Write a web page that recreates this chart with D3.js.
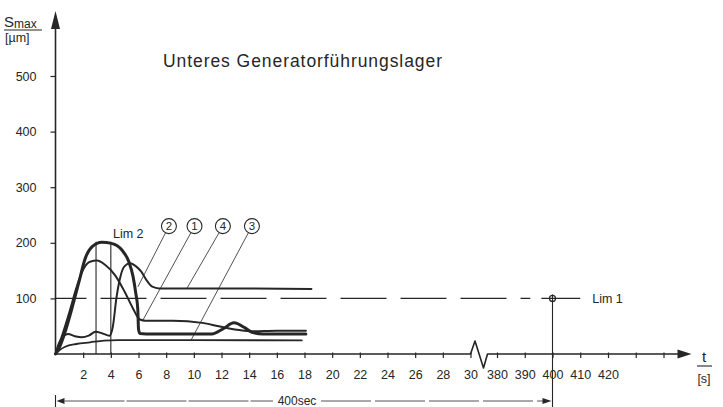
<!DOCTYPE html>
<html><head><meta charset="utf-8">
<script src="https://cdn.jsdelivr.net/npm/d3@7"></script>
<style>
body{margin:0;background:#fff;}
text{font-family:"Liberation Sans","DejaVu Sans",sans-serif;fill:#262626;}
</style></head>
<body><svg id="c" width="723" height="407"></svg>
<script>
// ---- data ----
const title = "Unteres   Generatorführungslager";
const yTicks = [100, 200, 300, 400, 500];
const xTicks = [2,4,6,8,10,12,14,16,18,20,22,24,26,28,30,380,390,400,410,420,430,440];
const xTickLabels = ["2","4","6","8","10","12","14","16","18","20","22","24","26","28","30","380","390","400","410","420","",""];

const c1t = [0,0.5,1.0,1.5,2.0,2.5,3.0,3.6,4.3,5.0,5.6,6.1,6.5,7.0,8.5,10.6,11.8,13.3,14.2,16,18.1];
const c1v = [0,35,75,118,152,166,168,160,142,112,82,62,60,60,60,56,50,43,41,42,42];
const c2t = [0,0.25,0.7,1.2,1.7,2.15,2.65,3.35,4.05,4.8,5.3,5.6,5.8,5.95,6.0,6.1,7,9,11.3,12.1,12.9,13.7,14.2,15,18.1];
const c2v = [0,10,40,83,130,172,193,201,199,187,166,140,110,80,45,37,36,36,36,45,56,47,39,36,36];
const c3t = [0,0.3,0.7,1.5,2.5,3.5,4.5,10,17.8];
const c3v = [0,7,13,18,21,24,25,25,24.5];
const c4t = [0,0.3,0.9,1.4,1.9,2.4,2.9,3.4,3.9,4.15,4.4,4.7,5.0,5.4,5.8,6.2,6.6,7.0,7.5,10,14,18.5];
const c4v = [0,22,36,32,30,33,40,37,33,50,100,140,158,163,158,148,132,121,118,118,118,117];
const seriesIds = ["1","2","3","4"];
const seriesT = [c1t, c2t, c3t, c4t];
const seriesV = [c1v, c2v, c3v, c4v];
const seriesWidth = [2, 3, 1.8, 2];

const markerIds = ["2","1","4","3"];
const markerT = [8.2, 10.05, 12.1, 14.2];
const markerV = [230, 230, 230, 230];
const targetT = [5.96, 6.32, 9.5, 9.8];
const targetV = [121, 61, 118, 25];

const lim1Value = 100, lim1Time = 400;
const lim2Times = [2.93, 4.0], lim2Value = 200;

// ---- scales ----
const x = d3.scaleLinear().domain([0,30,380,440]).range([55.5,470.5,497,663.5]);
const y = d3.scaleLinear().domain([0,500]).range([354,76]);

const svg = d3.select("#c");
const ink = "#262626";

// title
svg.append("text").attr("x",163).attr("y",67).attr("font-size",17.5)
  .attr("textLength",279).attr("lengthAdjust","spacing").text(title);

// y axis
const x0 = x(0), y0 = y(0);
svg.append("line").attr("x1",x0).attr("x2",x0).attr("y1",y0).attr("y2",26)
  .attr("stroke",ink).attr("stroke-width",1.6);
svg.append("path").attr("d",`M${x0},11 L${x0-4.5},29 L${x0+4.5},29 Z`).attr("fill",ink);
const yAx = svg.append("g").attr("transform",`translate(${x0},0)`)
  .call(d3.axisLeft(y).tickValues(yTicks).tickSize(5).tickPadding(14).tickFormat(d3.format("d")));
yAx.select(".domain").remove();
yAx.selectAll("line").attr("stroke",ink).attr("stroke-width",1.2);
yAx.selectAll("text").attr("font-size",12.5).attr("fill",ink)
  .style("font-family","'Liberation Sans','DejaVu Sans',sans-serif");

// y label
const yl = svg.append("text").attr("x",4).attr("y",27).attr("font-size",15);
yl.append("tspan").text("S");
yl.append("tspan").attr("font-size",12).attr("dy",1).text("max");
svg.append("line").attr("x1",4).attr("x2",42).attr("y1",30).attr("y2",30).attr("stroke",ink).attr("stroke-width",1.1);
svg.append("text").attr("x",5).attr("y",42).attr("font-size",12.5).text("[µm]");

// x axis line with break
const xb = x(30);
svg.append("path")
  .attr("d",`M${x0},${y0} L${xb},${y0} L${xb+4.5},${y0-13} L${xb+13},${y0+14} L${xb+17},${y0} L${x(440)+16},${y0}`)
  .attr("fill","none").attr("stroke",ink).attr("stroke-width",1.6).attr("stroke-linejoin","round");
svg.append("path").attr("d",`M${x(440)+28},${y0} L${x(440)+14},${y0-4.5} L${x(440)+14},${y0+4.5} Z`).attr("fill",ink);
const xAx = svg.append("g").attr("transform",`translate(0,${y0})`)
  .call(d3.axisBottom(x).tickValues(xTicks).tickSize(4).tickPadding(12)
    .tickFormat((d,i)=>xTickLabels[i]));
xAx.select(".domain").remove();
xAx.selectAll("line").attr("stroke",ink).attr("stroke-width",1.2).attr("y1",-1.5);
xAx.selectAll("text").attr("font-size",12.5).attr("fill",ink)
  .style("font-family","'Liberation Sans','DejaVu Sans',sans-serif");

// x label
svg.append("text").attr("x",704).attr("y",362).attr("font-size",15).attr("text-anchor","middle").text("t");
svg.append("line").attr("x1",697).attr("x2",712).attr("y1",366).attr("y2",366).attr("stroke",ink).attr("stroke-width",1.1);
svg.append("text").attr("x",704).attr("y",383).attr("font-size",12.5).attr("text-anchor","middle").text("[s]");

// Lim 1 dashed line
svg.append("line").attr("x1",x0).attr("x2",x(392)).attr("y1",y(lim1Value)).attr("y2",y(lim1Value))
  .attr("stroke",ink).attr("stroke-width",1.2).attr("stroke-dasharray","46,14").attr("stroke-dashoffset",15);
svg.append("line").attr("x1",x(396)).attr("x2",x(410)).attr("y1",y(lim1Value)).attr("y2",y(lim1Value))
  .attr("stroke",ink).attr("stroke-width",1.2);
svg.append("circle").attr("cx",x(lim1Time)).attr("cy",y(lim1Value)).attr("r",3)
  .attr("fill","none").attr("stroke",ink).attr("stroke-width",1.2);
svg.append("line").attr("x1",x(lim1Time)).attr("x2",x(lim1Time)).attr("y1",y(lim1Value)-4).attr("y2",407)
  .attr("stroke",ink).attr("stroke-width",1.1);
svg.append("text").attr("x",x(410)+12).attr("y",y(lim1Value)+4.5).attr("font-size",12.5).text("Lim 1");

// Lim 2 verticals
lim2Times.forEach(t=>{
  svg.append("line").attr("x1",x(t)).attr("x2",x(t)).attr("y1",y(0)).attr("y2",y(lim2Value)-1)
    .attr("stroke",ink).attr("stroke-width",1.1);
});
svg.append("text").attr("x",113).attr("y",238).attr("font-size",12.5).text("Lim 2");

// curves
const line = d3.line().curve(d3.curveMonotoneX).x(d=>x(d[0])).y(d=>y(d[1]));
seriesIds.forEach((id,i)=>{
  const pts = seriesT[i].map((t,j)=>[t, seriesV[i][j]]);
  svg.append("path").datum(pts).attr("d",line).attr("fill","none")
    .attr("stroke",ink).attr("stroke-width",seriesWidth[i]).attr("stroke-linejoin","round").attr("stroke-linecap","round");
});

// markers and leaders
const r = 7.5;
markerIds.forEach((id,i)=>{
  const cx = x(markerT[i]), cy = y(markerV[i]);
  const tx = x(targetT[i]), ty = y(targetV[i]);
  const dx = tx-cx, dy = ty-cy, L = Math.hypot(dx,dy);
  svg.append("line").attr("x1",cx+dx/L*r).attr("y1",cy+dy/L*r).attr("x2",tx).attr("y2",ty)
    .attr("stroke",ink).attr("stroke-width",0.8);
  svg.append("circle").attr("cx",cx).attr("cy",cy).attr("r",r).attr("fill","#fff")
    .attr("stroke",ink).attr("stroke-width",1.1);
  svg.append("text").attr("x",cx).attr("y",cy+4).attr("font-size",11.5).attr("text-anchor","middle").text(id);
});

// bottom 400 sec bracket
const by = 401;
svg.append("line").attr("x1",x0).attr("x2",x0).attr("y1",by-6).attr("y2",by+6).attr("stroke",ink).attr("stroke-width",1.1);
svg.append("path").attr("d",`M${x0+1},${by} L${x0+9},${by-3} L${x0+9},${by+3} Z`).attr("fill",ink);
svg.append("line").attr("x1",x0+9).attr("x2",273).attr("y1",by).attr("y2",by)
  .attr("stroke",ink).attr("stroke-width",0.8).attr("stroke-dasharray","60,2");
svg.append("text").attr("x",297).attr("y",by+4).attr("font-size",12).attr("text-anchor","middle").text("400sec");
svg.append("line").attr("x1",321).attr("x2",x(lim1Time)-9).attr("y1",by).attr("y2",by)
  .attr("stroke",ink).attr("stroke-width",0.8).attr("stroke-dasharray","50,4");
svg.append("path").attr("d",`M${x(lim1Time)-1},${by} L${x(lim1Time)-10},${by-3} L${x(lim1Time)-10},${by+3} Z`).attr("fill",ink);
</script></body></html>
